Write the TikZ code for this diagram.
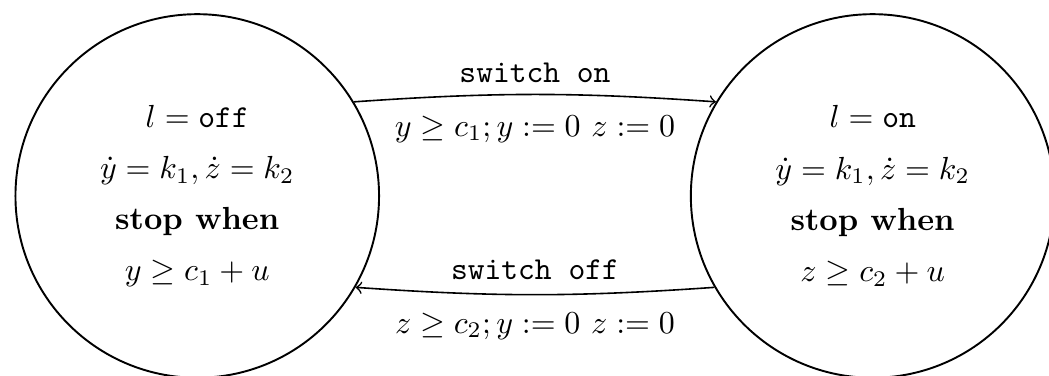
\documentclass[tikz,border=0pt]{standalone}
\usepackage{amsmath}
\begin{document}
\begin{tikzpicture}[
        every node/.style={font=\normalsize},
        mode/.style={circle, draw=black, line width=0.6pt, minimum size=4.0cm, align=center, inner sep=0pt},
        arrow/.style={->, line width=0.5pt, draw=black},
        guard/.style={font=\normalsize}
        ]
        \useasboundingbox (0,0) rectangle (11.54,4.136);

        \node[mode] (off) at (2.17, 1.98) {$l = \texttt{off}$\\[4pt] $\dot{y} = k_1, \dot{z} = k_2$\\[4pt] \textbf{stop when}\\[4pt] $y \geq c_1 + u$};
        \node[mode] (on) at (9.60, 1.98) {$l = \texttt{on}$\\[4pt] $\dot{y} = k_1, \dot{z} = k_2$\\[4pt] \textbf{stop when}\\[4pt] $z \geq c_2 + u$};

        \draw[arrow] (off.31) to[bend left=4] node[above, guard] {\texttt{switch on}} node[below, guard, yshift=-3pt] {$y \geq c_1; y := 0\ z := 0$} (on.149);
        \draw[arrow] (on.-150) to[bend left=4] node[above, guard, yshift=1pt] {\texttt{switch off}} node[below, guard, yshift=-2pt] {$z \geq c_2; y := 0\ z := 0$} (off.-30);

    \end{tikzpicture}
\end{document}
